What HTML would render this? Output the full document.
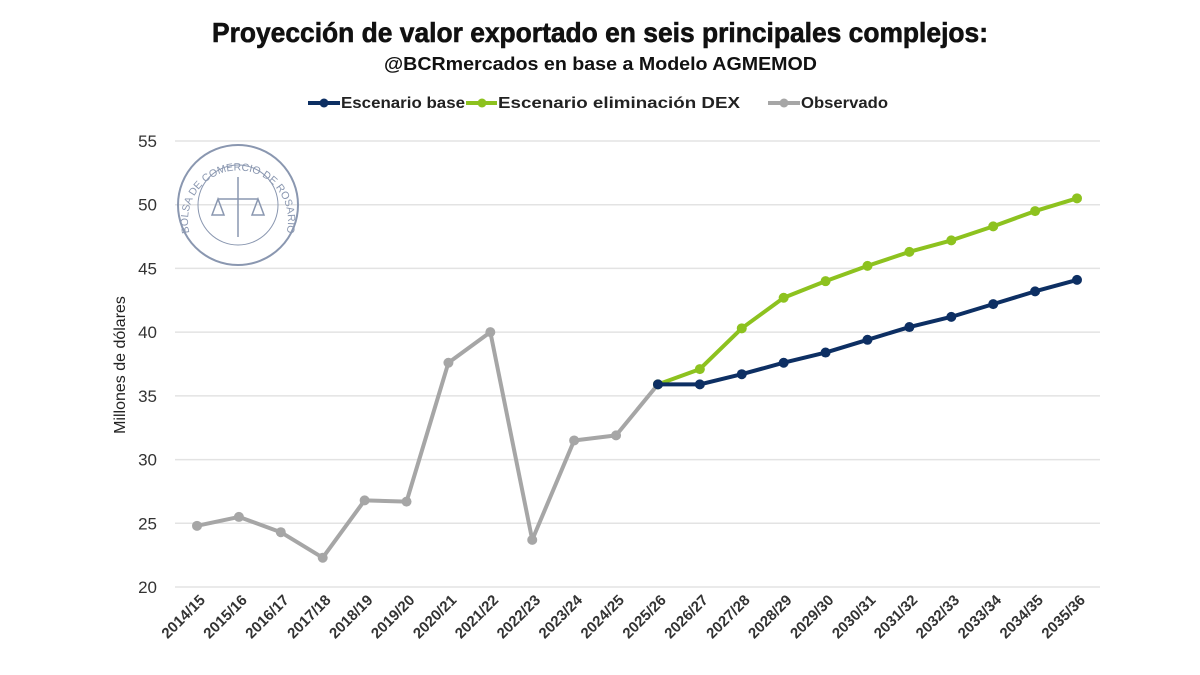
<!DOCTYPE html>
<html><head><meta charset="utf-8"><style>
html,body{margin:0;padding:0;background:#fff;width:1200px;height:675px;overflow:hidden}
svg{display:block}
</style></head><body>
<svg id="c" width="1200" height="675" xmlns="http://www.w3.org/2000/svg" font-family="Liberation Sans, sans-serif">
<defs><path id="arc" d="M192 240 A50 50 0 1 1 284 240"/></defs>
<text x="212" y="42" font-size="28" font-weight="bold" fill="#111" textLength="776" lengthAdjust="spacingAndGlyphs" stroke="#111" stroke-width="0.6">Proyección de valor exportado en seis principales complejos:</text>
<text x="384" y="70" font-size="18" font-weight="bold" fill="#111" textLength="433" lengthAdjust="spacingAndGlyphs">@BCRmercados en base a Modelo AGMEMOD</text>
<g font-size="16" font-weight="bold" fill="#222">
<line x1="308" y1="103" x2="340" y2="103" stroke="#0d2f63" stroke-width="4"/><circle cx="324" cy="103" r="4.5" fill="#0d2f63"/>
<text x="341" y="108" textLength="124" lengthAdjust="spacingAndGlyphs">Escenario base</text>
<line x1="466" y1="103" x2="497" y2="103" stroke="#8dc21f" stroke-width="4"/><circle cx="482" cy="103" r="4.5" fill="#8dc21f"/>
<text x="498" y="108" textLength="242" lengthAdjust="spacingAndGlyphs">Escenario eliminación DEX</text>
<line x1="768" y1="103" x2="800" y2="103" stroke="#a6a6a6" stroke-width="4"/><circle cx="784" cy="103" r="4.5" fill="#a6a6a6"/>
<text x="801" y="108" textLength="87" lengthAdjust="spacingAndGlyphs">Observado</text>
</g>
<g id="grid"></g>
<g transform="translate(238 205)" fill="none" stroke="#8a97b0">
<circle r="60" stroke-width="2"/><circle r="40" stroke-width="1"/>
<path d="M-20 -6 L20 -6 M0 -28 L0 32 M-20 -6 L-26 10 L-14 10 Z M20 -6 L14 10 L26 10 Z" stroke-width="1.5"/>
</g>
<text font-size="10.5" fill="#8a97b0" text-anchor="middle"><textPath href="#arc" startOffset="50%">BOLSA DE COMERCIO DE ROSARIO</textPath></text>
<text transform="translate(125 365) rotate(-90)" text-anchor="middle" font-size="16" fill="#222">Millones de dólares</text>
<g id="series"></g>
</svg>
<script>
const g=document.getElementById('grid'),s=document.getElementById('series');
const NS='http://www.w3.org/2000/svg';
function el(p,t,a,txt){const e=document.createElementNS(NS,t);for(const k in a)e.setAttribute(k,a[k]);if(txt!=null)e.textContent=txt;p.appendChild(e);return e;}
const Y=v=>587-(v-20)*(446/35), X=i=>197+i*(880/21);
for(let v=20;v<=55;v+=5){const y=Y(v);el(g,'line',{x1:175,x2:1100,y1:y,y2:y,stroke:'#e3e3e3','stroke-width':1.5});el(g,'text',{x:157,y:y+6,'text-anchor':'end','font-size':17,fill:'#333'},v);}
const labs=[];for(let i=0;i<22;i++){const a=2014+i;labs.push(a+'/'+String((a+1)%100).padStart(2,'0'));}
labs.forEach((l,i)=>{const x=X(i)+9,y=601;el(g,'text',{x:x,y:y,'text-anchor':'end','font-size':15,'font-weight':'bold',fill:'#333',transform:`rotate(-45 ${x} ${y})`},l);});
function ser(d,off,c){const pts=d.map((v,i)=>[X(i+off),Y(v)]);el(s,'polyline',{points:pts.map(p=>p.join(',')).join(' '),fill:'none',stroke:c,'stroke-width':4,'stroke-linejoin':'round'});pts.forEach(p=>el(s,'circle',{cx:p[0],cy:p[1],r:5,fill:c}));}
ser([24.8,25.5,24.3,22.3,26.8,26.7,37.6,40.0,23.7,31.5,31.9,35.9],0,'#a6a6a6');
ser([35.9,37.1,40.3,42.7,44.0,45.2,46.3,47.2,48.3,49.5,50.5],11,'#8dc21f');
ser([35.9,35.9,36.7,37.6,38.4,39.4,40.4,41.2,42.2,43.2,44.1],11,'#0d2f63');
</script>
</body></html>
